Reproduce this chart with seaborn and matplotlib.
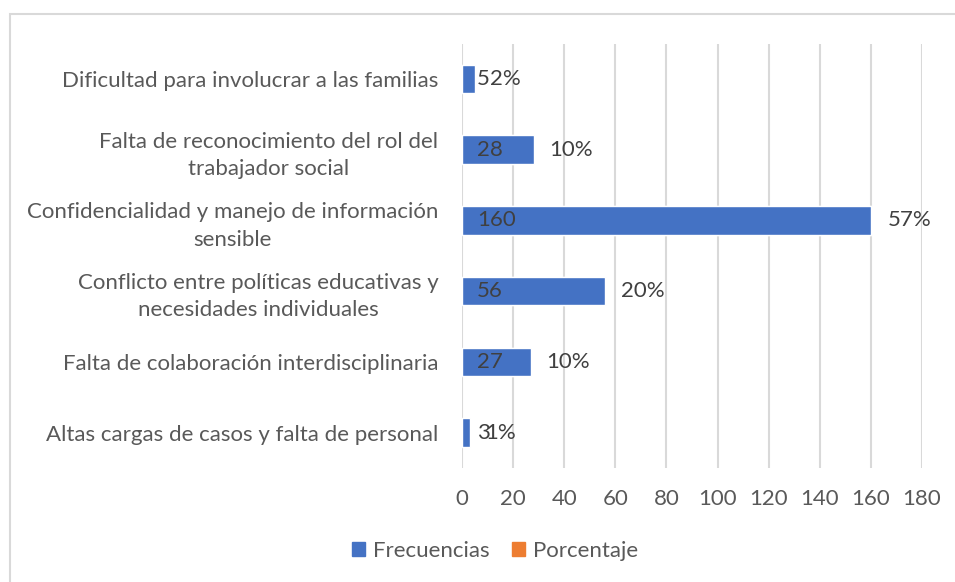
import matplotlib
matplotlib.use("Agg")
import matplotlib.pyplot as plt
import matplotlib.patches as mpatches
import seaborn as sns
import pandas as pd

categories = [
    "Dificultad para involucrar a las familias",
    "Falta de reconocimiento del rol del\ntrabajador social",
    "Confidencialidad y manejo de información\nsensible",
    "Conflicto entre políticas educativas y\nnecesidades individuales",
    "Falta de colaboración interdisciplinaria",
    "Altas cargas de casos y falta de personal",
]
frecuencias = [5, 28, 160, 56, 27, 3]
porcentaje = [0.02, 0.10, 0.57, 0.20, 0.10, 0.01]
x_ticks = [0, 20, 40, 60, 80, 100, 120, 140, 160, 180]

BLUE = "#4472C4"
ORANGE = "#ED7D31"
GRID = "#D9D9D9"
TXT = "#595959"
LBL = "#404040"

sns.set_theme(style="white")
plt.rcParams["font.family"] = ["Lato", "DejaVu Sans"]
FS = 16

df = pd.DataFrame({"cat": categories, "freq": frecuencias, "pct": porcentaje})
df["total"] = df["freq"] + df["pct"]

fig = plt.figure(figsize=(9.55, 5.82), dpi=100)
ax = fig.add_axes([462/955, 1-468/582, 460/955, 424.5/582])

sns.barplot(data=df, y="cat", x="total", color=ORANGE, orient="h", width=0.4,
            saturation=1, ax=ax, zorder=2)
sns.barplot(data=df, y="cat", x="freq", color=BLUE, orient="h", width=0.4,
            saturation=1, ax=ax, zorder=3)

ax.set_xlim(0, 180)
ax.set_ylim(5.5, -0.5)
ax.set_xticks(x_ticks)
ax.set_xlabel("")
ax.set_ylabel("")
for s in ax.spines.values():
    s.set_visible(False)
ax.grid(axis="x", color=GRID, linewidth=1.5, zorder=0)
ax.set_axisbelow(True)
ax.tick_params(axis="x", length=0, pad=15, labelsize=FS, labelcolor=TXT)
ax.tick_params(axis="y", length=0, pad=17, labelsize=FS, labelcolor=TXT)
for t in ax.get_yticklabels():
    t.set_multialignment("center")
    t.set_linespacing(1.45)

for i, (f, p, tot) in enumerate(zip(frecuencias, porcentaje, df["total"])):
    ax.annotate(f"{f}", xy=(0, i), xytext=(11, 0), textcoords="offset points",
                va="center", ha="left", fontsize=FS, color=LBL, zorder=5)
    ax.annotate(f"{round(p*100)}%", xy=(tot, i), xytext=(11, 0), textcoords="offset points",
                va="center", ha="left", fontsize=FS, color=LBL, zorder=5)

# outer chart frame
frame = mpatches.Rectangle((10/955, -0.2), 1.5, 1.2 - 14/582, transform=fig.transFigure,
                           fill=False, edgecolor=GRID, linewidth=1.5)
fig.patches.append(frame)

handles = [mpatches.Patch(color=BLUE, label="Frecuencias"),
           mpatches.Patch(color=ORANGE, label="Porcentaje")]
fig.legend(handles=handles, loc="center", bbox_to_anchor=(495/955, 1-551/582), ncol=2,
           frameon=False, fontsize=FS, labelcolor=TXT, handlelength=0.6, handleheight=0.6,
           handletextpad=0.35, columnspacing=1.0)

fig.savefig("out.png", dpi=100)
